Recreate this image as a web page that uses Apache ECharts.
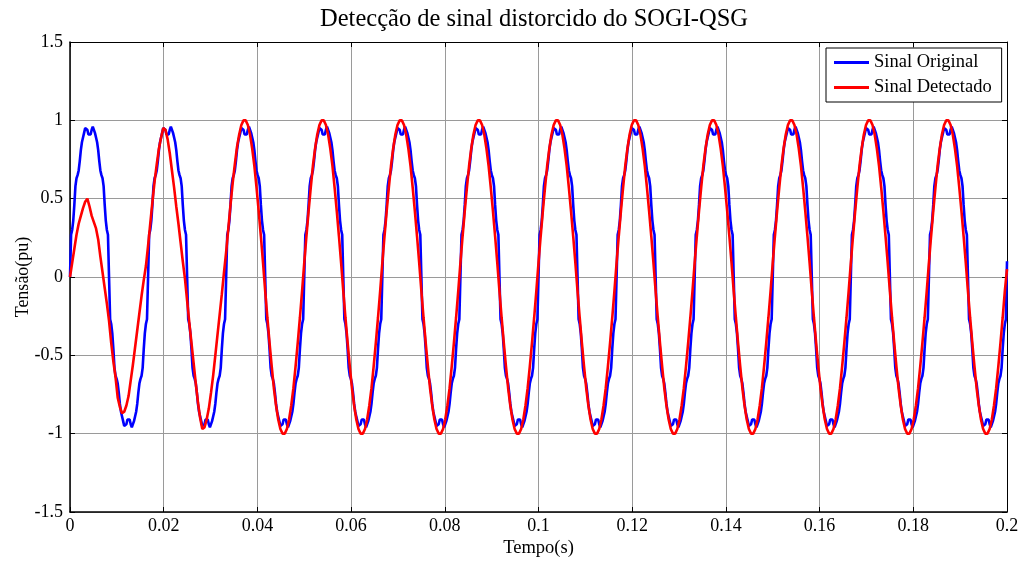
<!DOCTYPE html>
<html><head><meta charset="utf-8">
<script src="https://cdn.jsdelivr.net/npm/echarts@6/dist/echarts.min.js"></script>
<style>html,body{margin:0;padding:0;background:#fff}#c{width:1023px;height:563px}</style>
</head><body><div id="c"></div>
<script>
const TITLE = 'Detecção de sinal distorcido do SOGI-QSG';
const X_NAME = 'Tempo(s)';
const Y_NAME = 'Tensão(pu)';
const SERIES_NAMES = ['Sinal Original', 'Sinal Detectado'];
const X_MIN = 0, X_MAX = 0.2, X_INTERVAL = 0.02;
const Y_MIN = -1.5, Y_MAX = 1.5, Y_INTERVAL = 0.5;
// sample spacing of the values (seconds)
const BLUE_DT = 1 / 4320;   // 72 samples per 60 Hz cycle
const RED_DT = 1 / 2160;    // 36 samples per 60 Hz cycle

// Sinal Original (pu), 0 .. 0.2 s
const blueValues = [
0,0.27,0.30,0.36,0.46,0.58,0.63,0.65,0.68,0.74,0.81,0.86,0.89,0.92,0.95,0.96,0.94,0.91,0.90,0.91,0.94,0.96,0.95,0.92,0.89,0.86,0.81,0.74,0.68,0.65,0.63,0.58,0.46,0.36,0.30,0.27,0,-0.27,-0.30,-0.36,-0.46,-0.58,-0.63,-0.65,-0.68,-0.74,-0.81,-0.86,-0.89,-0.92,-0.95,-0.96,-0.94,-0.91,-0.90,-0.91,-0.94,-0.96,-0.95,-0.92,-0.89,-0.86,-0.81,-0.74,-0.68,-0.65,-0.63,-0.58,-0.46,-0.36,-0.30,-0.27,
0,0.27,0.30,0.36,0.46,0.58,0.63,0.65,0.68,0.74,0.81,0.86,0.89,0.92,0.95,0.96,0.94,0.91,0.90,0.91,0.94,0.96,0.95,0.92,0.89,0.86,0.81,0.74,0.68,0.65,0.63,0.58,0.46,0.36,0.30,0.27,0,-0.27,-0.30,-0.36,-0.46,-0.58,-0.63,-0.65,-0.68,-0.74,-0.81,-0.86,-0.89,-0.92,-0.95,-0.96,-0.94,-0.91,-0.90,-0.91,-0.94,-0.96,-0.95,-0.92,-0.89,-0.86,-0.81,-0.74,-0.68,-0.65,-0.63,-0.58,-0.46,-0.36,-0.30,-0.27,
0,0.27,0.30,0.36,0.46,0.58,0.63,0.65,0.68,0.74,0.81,0.86,0.89,0.92,0.95,0.96,0.94,0.91,0.90,0.91,0.94,0.96,0.95,0.92,0.89,0.86,0.81,0.74,0.68,0.65,0.63,0.58,0.46,0.36,0.30,0.27,0,-0.27,-0.30,-0.36,-0.46,-0.58,-0.63,-0.65,-0.68,-0.74,-0.81,-0.86,-0.89,-0.92,-0.95,-0.96,-0.94,-0.91,-0.90,-0.91,-0.94,-0.96,-0.95,-0.92,-0.89,-0.86,-0.81,-0.74,-0.68,-0.65,-0.63,-0.58,-0.46,-0.36,-0.30,-0.27,
0,0.27,0.30,0.36,0.46,0.58,0.63,0.65,0.68,0.74,0.81,0.86,0.89,0.92,0.95,0.96,0.94,0.91,0.90,0.91,0.94,0.96,0.95,0.92,0.89,0.86,0.81,0.74,0.68,0.65,0.63,0.58,0.46,0.36,0.30,0.27,0,-0.27,-0.30,-0.36,-0.46,-0.58,-0.63,-0.65,-0.68,-0.74,-0.81,-0.86,-0.89,-0.92,-0.95,-0.96,-0.94,-0.91,-0.90,-0.91,-0.94,-0.96,-0.95,-0.92,-0.89,-0.86,-0.81,-0.74,-0.68,-0.65,-0.63,-0.58,-0.46,-0.36,-0.30,-0.27,
0,0.27,0.30,0.36,0.46,0.58,0.63,0.65,0.68,0.74,0.81,0.86,0.89,0.92,0.95,0.96,0.94,0.91,0.90,0.91,0.94,0.96,0.95,0.92,0.89,0.86,0.81,0.74,0.68,0.65,0.63,0.58,0.46,0.36,0.30,0.27,0,-0.27,-0.30,-0.36,-0.46,-0.58,-0.63,-0.65,-0.68,-0.74,-0.81,-0.86,-0.89,-0.92,-0.95,-0.96,-0.94,-0.91,-0.90,-0.91,-0.94,-0.96,-0.95,-0.92,-0.89,-0.86,-0.81,-0.74,-0.68,-0.65,-0.63,-0.58,-0.46,-0.36,-0.30,-0.27,
0,0.27,0.30,0.36,0.46,0.58,0.63,0.65,0.68,0.74,0.81,0.86,0.89,0.92,0.95,0.96,0.94,0.91,0.90,0.91,0.94,0.96,0.95,0.92,0.89,0.86,0.81,0.74,0.68,0.65,0.63,0.58,0.46,0.36,0.30,0.27,0,-0.27,-0.30,-0.36,-0.46,-0.58,-0.63,-0.65,-0.68,-0.74,-0.81,-0.86,-0.89,-0.92,-0.95,-0.96,-0.94,-0.91,-0.90,-0.91,-0.94,-0.96,-0.95,-0.92,-0.89,-0.86,-0.81,-0.74,-0.68,-0.65,-0.63,-0.58,-0.46,-0.36,-0.30,-0.27,
0,0.27,0.30,0.36,0.46,0.58,0.63,0.65,0.68,0.74,0.81,0.86,0.89,0.92,0.95,0.96,0.94,0.91,0.90,0.91,0.94,0.96,0.95,0.92,0.89,0.86,0.81,0.74,0.68,0.65,0.63,0.58,0.46,0.36,0.30,0.27,0,-0.27,-0.30,-0.36,-0.46,-0.58,-0.63,-0.65,-0.68,-0.74,-0.81,-0.86,-0.89,-0.92,-0.95,-0.96,-0.94,-0.91,-0.90,-0.91,-0.94,-0.96,-0.95,-0.92,-0.89,-0.86,-0.81,-0.74,-0.68,-0.65,-0.63,-0.58,-0.46,-0.36,-0.30,-0.27,
0,0.27,0.30,0.36,0.46,0.58,0.63,0.65,0.68,0.74,0.81,0.86,0.89,0.92,0.95,0.96,0.94,0.91,0.90,0.91,0.94,0.96,0.95,0.92,0.89,0.86,0.81,0.74,0.68,0.65,0.63,0.58,0.46,0.36,0.30,0.27,0,-0.27,-0.30,-0.36,-0.46,-0.58,-0.63,-0.65,-0.68,-0.74,-0.81,-0.86,-0.89,-0.92,-0.95,-0.96,-0.94,-0.91,-0.90,-0.91,-0.94,-0.96,-0.95,-0.92,-0.89,-0.86,-0.81,-0.74,-0.68,-0.65,-0.63,-0.58,-0.46,-0.36,-0.30,-0.27,
0,0.27,0.30,0.36,0.46,0.58,0.63,0.65,0.68,0.74,0.81,0.86,0.89,0.92,0.95,0.96,0.94,0.91,0.90,0.91,0.94,0.96,0.95,0.92,0.89,0.86,0.81,0.74,0.68,0.65,0.63,0.58,0.46,0.36,0.30,0.27,0,-0.27,-0.30,-0.36,-0.46,-0.58,-0.63,-0.65,-0.68,-0.74,-0.81,-0.86,-0.89,-0.92,-0.95,-0.96,-0.94,-0.91,-0.90,-0.91,-0.94,-0.96,-0.95,-0.92,-0.89,-0.86,-0.81,-0.74,-0.68,-0.65,-0.63,-0.58,-0.46,-0.36,-0.30,-0.27,
0,0.27,0.30,0.36,0.46,0.58,0.63,0.65,0.68,0.74,0.81,0.86,0.89,0.92,0.95,0.96,0.94,0.91,0.90,0.91,0.94,0.96,0.95,0.92,0.89,0.86,0.81,0.74,0.68,0.65,0.63,0.58,0.46,0.36,0.30,0.27,0,-0.27,-0.30,-0.36,-0.46,-0.58,-0.63,-0.65,-0.68,-0.74,-0.81,-0.86,-0.89,-0.92,-0.95,-0.96,-0.94,-0.91,-0.90,-0.91,-0.94,-0.96,-0.95,-0.92,-0.89,-0.86,-0.81,-0.74,-0.68,-0.65,-0.63,-0.58,-0.46,-0.36,-0.30,-0.27,
0,0.27,0.30,0.36,0.46,0.58,0.63,0.65,0.68,0.74,0.81,0.86,0.89,0.92,0.95,0.96,0.94,0.91,0.90,0.91,0.94,0.96,0.95,0.92,0.89,0.86,0.81,0.74,0.68,0.65,0.63,0.58,0.46,0.36,0.30,0.27,0,-0.27,-0.30,-0.36,-0.46,-0.58,-0.63,-0.65,-0.68,-0.74,-0.81,-0.86,-0.89,-0.92,-0.95,-0.96,-0.94,-0.91,-0.90,-0.91,-0.94,-0.96,-0.95,-0.92,-0.89,-0.86,-0.81,-0.74,-0.68,-0.65,-0.63,-0.58,-0.46,-0.36,-0.30,-0.27,
0,0.27,0.30,0.36,0.46,0.58,0.63,0.65,0.68,0.74,0.81,0.86,0.89,0.92,0.95,0.96,0.94,0.91,0.90,0.91,0.94,0.96,0.95,0.92,0.89,0.86,0.81,0.74,0.68,0.65,0.63,0.58,0.46,0.36,0.30,0.27,0,-0.27,-0.30,-0.36,-0.46,-0.58,-0.63,-0.65,-0.68,-0.74,-0.81,-0.86,-0.89,-0.92,-0.95,-0.96,-0.94,-0.91,-0.90,-0.91,-0.94,-0.96,-0.95,-0.92,-0.89,-0.86,-0.81,-0.74,-0.68,-0.65,-0.63,-0.58,-0.46,-0.36,-0.30,-0.27,
0.1
];

// Sinal Detectado (pu), 0 .. 0.2 s
const redValues = [
0.00,0.09,0.18,0.27,0.34,0.39,0.44,0.48,0.50,0.45,0.39,0.35,0.31,0.24,0.13,0.03,-0.07,-0.17,-0.28,-0.42,-0.54,-0.64,-0.77,-0.83,-0.87,-0.86,-0.82,-0.76,-0.66,-0.56,-0.45,-0.34,-0.23,-0.12,-0.02,0.07,
0.20,0.34,0.48,0.61,0.72,0.82,0.89,0.95,0.94,0.88,0.79,0.68,0.57,0.45,0.34,0.22,0.10,-0.01,-0.15,-0.29,-0.42,-0.55,-0.68,-0.80,-0.90,-0.97,-0.96,-0.91,-0.84,-0.74,-0.63,-0.50,-0.37,-0.24,-0.11,0.03,
0.16,0.31,0.46,0.60,0.72,0.83,0.91,0.97,1.00,1.00,0.97,0.91,0.82,0.71,0.57,0.42,0.26,0.09,-0.09,-0.26,-0.42,-0.57,-0.71,-0.82,-0.91,-0.97,-1.00,-1.00,-0.97,-0.91,-0.82,-0.71,-0.57,-0.42,-0.26,-0.09,
0.09,0.26,0.42,0.57,0.71,0.82,0.91,0.97,1.00,1.00,0.97,0.91,0.82,0.71,0.57,0.42,0.26,0.09,-0.09,-0.26,-0.42,-0.57,-0.71,-0.82,-0.91,-0.97,-1.00,-1.00,-0.97,-0.91,-0.82,-0.71,-0.57,-0.42,-0.26,-0.09,
0.09,0.26,0.42,0.57,0.71,0.82,0.91,0.97,1.00,1.00,0.97,0.91,0.82,0.71,0.57,0.42,0.26,0.09,-0.09,-0.26,-0.42,-0.57,-0.71,-0.82,-0.91,-0.97,-1.00,-1.00,-0.97,-0.91,-0.82,-0.71,-0.57,-0.42,-0.26,-0.09,
0.09,0.26,0.42,0.57,0.71,0.82,0.91,0.97,1.00,1.00,0.97,0.91,0.82,0.71,0.57,0.42,0.26,0.09,-0.09,-0.26,-0.42,-0.57,-0.71,-0.82,-0.91,-0.97,-1.00,-1.00,-0.97,-0.91,-0.82,-0.71,-0.57,-0.42,-0.26,-0.09,
0.09,0.26,0.42,0.57,0.71,0.82,0.91,0.97,1.00,1.00,0.97,0.91,0.82,0.71,0.57,0.42,0.26,0.09,-0.09,-0.26,-0.42,-0.57,-0.71,-0.82,-0.91,-0.97,-1.00,-1.00,-0.97,-0.91,-0.82,-0.71,-0.57,-0.42,-0.26,-0.09,
0.09,0.26,0.42,0.57,0.71,0.82,0.91,0.97,1.00,1.00,0.97,0.91,0.82,0.71,0.57,0.42,0.26,0.09,-0.09,-0.26,-0.42,-0.57,-0.71,-0.82,-0.91,-0.97,-1.00,-1.00,-0.97,-0.91,-0.82,-0.71,-0.57,-0.42,-0.26,-0.09,
0.09,0.26,0.42,0.57,0.71,0.82,0.91,0.97,1.00,1.00,0.97,0.91,0.82,0.71,0.57,0.42,0.26,0.09,-0.09,-0.26,-0.42,-0.57,-0.71,-0.82,-0.91,-0.97,-1.00,-1.00,-0.97,-0.91,-0.82,-0.71,-0.57,-0.42,-0.26,-0.09,
0.09,0.26,0.42,0.57,0.71,0.82,0.91,0.97,1.00,1.00,0.97,0.91,0.82,0.71,0.57,0.42,0.26,0.09,-0.09,-0.26,-0.42,-0.57,-0.71,-0.82,-0.91,-0.97,-1.00,-1.00,-0.97,-0.91,-0.82,-0.71,-0.57,-0.42,-0.26,-0.09,
0.09,0.26,0.42,0.57,0.71,0.82,0.91,0.97,1.00,1.00,0.97,0.91,0.82,0.71,0.57,0.42,0.26,0.09,-0.09,-0.26,-0.42,-0.57,-0.71,-0.82,-0.91,-0.97,-1.00,-1.00,-0.97,-0.91,-0.82,-0.71,-0.57,-0.42,-0.26,-0.09,
0.09,0.26,0.42,0.57,0.71,0.82,0.91,0.97,1.00,1.00,0.97,0.91,0.82,0.71,0.57,0.42,0.26,0.09,-0.09,-0.26,-0.42,-0.57,-0.71,-0.82,-0.91,-0.97,-1.00,-1.00,-0.97,-0.91,-0.82,-0.71,-0.57,-0.42,-0.26,-0.09,
0.05
];

const FONT = 'Liberation Serif';
const blueData = blueValues.map((v, i) => [i * BLUE_DT, v]);
const redData = redValues.map((v, i) => [i * RED_DT, v]);

const chart = echarts.init(document.getElementById('c'), null, { renderer: 'canvas' });
const boxAxisX = {
  type: 'value', min: X_MIN, max: X_MAX, interval: X_INTERVAL,
  axisLine: { show: true, onZero: false, lineStyle: { color: '#000', width: 1 } },
  axisTick: { show: true, inside: true, length: 5, lineStyle: { color: '#000' } },
  axisLabel: { show: false }, splitLine: { show: false }
};
const boxAxisY = {
  type: 'value', min: Y_MIN, max: Y_MAX, interval: Y_INTERVAL,
  axisLine: { show: true, onZero: false, lineStyle: { color: '#000', width: 1 } },
  axisTick: { show: true, inside: true, length: 5, lineStyle: { color: '#000' } },
  axisLabel: { show: false }, splitLine: { show: false }
};
chart.setOption({
  animation: false,
  backgroundColor: '#fff',
  title: {
    text: TITLE, left: 529, top: 2, textAlign: 'center',
    textStyle: { fontFamily: FONT, fontSize: 24.5, fontWeight: 'normal', color: '#000' }
  },
  legend: {
    orient: 'vertical', left: 826, top: 48,
    padding: [5, 10, 5, 8], itemGap: 6, itemWidth: 35, itemHeight: 3,
    backgroundColor: '#fff', borderColor: '#000', borderWidth: 1,
    textStyle: { fontFamily: FONT, fontSize: 18.5, color: '#000' },
    itemStyle: { borderWidth: 0 },
    data: SERIES_NAMES.map(n => ({ name: n, icon: 'rect' }))
  },
  grid: { left: 70, right: 16, top: 42, bottom: 51, containLabel: false, outerBoundsMode: 'none' },
  xAxis: [
    {
      type: 'value', min: X_MIN, max: X_MAX, interval: X_INTERVAL, position: 'bottom',
      name: X_NAME, nameLocation: 'middle', nameGap: 27, nameMoveOverlap: false,
      nameTextStyle: { fontFamily: FONT, fontSize: 18.5, color: '#000' },
      axisLine: { show: true, onZero: false, lineStyle: { color: '#000', width: 1.5 } },
      axisTick: { show: true, inside: true, length: 5, lineStyle: { color: '#000' } },
      axisLabel: { fontFamily: FONT, fontSize: 18, color: '#000', margin: 5 },
      splitLine: { show: true, lineStyle: { color: '#9a9a9a', width: 1 } }
    },
    Object.assign({ position: 'top' }, boxAxisX)
  ],
  yAxis: [
    {
      type: 'value', min: Y_MIN, max: Y_MAX, interval: Y_INTERVAL, position: 'left',
      name: Y_NAME, nameLocation: 'middle', nameGap: 38, nameMoveOverlap: false,
      nameTextStyle: { fontFamily: FONT, fontSize: 18, color: '#000' },
      axisLine: { show: true, onZero: false, lineStyle: { color: '#000', width: 1.5 } },
      axisTick: { show: true, inside: true, length: 5, lineStyle: { color: '#000' } },
      axisLabel: { fontFamily: FONT, fontSize: 18, color: '#000', margin: 7 },
      splitLine: { show: true, lineStyle: { color: '#9a9a9a', width: 1 } }
    },
    Object.assign({ position: 'right' }, boxAxisY)
  ],
  series: [
    {
      name: SERIES_NAMES[0], type: 'line', data: blueData, xAxisIndex: 0, yAxisIndex: 0,
      symbol: 'none', showSymbol: false, smooth: false,
      lineStyle: { color: '#0000ff', width: 2.6 }, itemStyle: { color: '#0000ff' }
    },
    {
      name: SERIES_NAMES[1], type: 'line', data: redData, xAxisIndex: 0, yAxisIndex: 0,
      symbol: 'none', showSymbol: false, smooth: false,
      lineStyle: { color: '#ff0000', width: 2.6 }, itemStyle: { color: '#ff0000' }
    }
  ]
});
</script>
</body></html>
